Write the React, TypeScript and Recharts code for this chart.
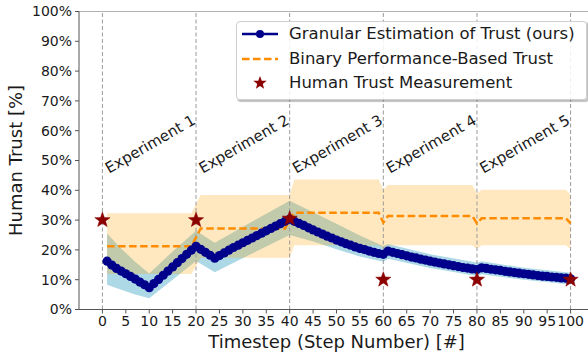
import React from 'react';
import {
  ComposedChart, Line, Area, Scatter, XAxis, YAxis, ReferenceLine,
} from 'recharts';

// ---- data ----
const granularTrust: number[] = [
  16.2, 14.9, 13.8, 12.9, 12.0, 11.1, 10.2, 9.2, 8.3, 7.3,
  8.7, 10.1, 11.5, 12.9, 14.3, 15.7, 17.1, 18.5, 19.9, 21.2,
  20.2, 19.2, 18.2, 17.2,
  18.1, 19.0, 19.9, 20.8, 21.6, 22.4, 23.2, 24.0, 24.8, 25.6, 26.4, 27.2, 28.0, 28.8, 29.6, 30.3,
  29.6, 28.9, 28.2, 27.4, 26.7, 26.0, 25.3, 24.6, 24.0, 23.3, 22.7, 22.1, 21.6, 21.0, 20.5, 20.1, 19.6, 19.2, 18.8, 18.5,
  19.6, 19.2, 18.8, 18.4, 18.0, 17.6, 17.3, 16.9, 16.6, 16.2, 15.9, 15.6, 15.3, 15.0, 14.7, 14.4, 14.1, 13.9, 13.6, 13.4,
  14.0, 13.8, 13.5, 13.3, 13.1, 12.8, 12.6, 12.4, 12.2, 12.0, 11.8, 11.6, 11.4, 11.2, 11.1, 10.9, 10.8, 10.6, 10.5, 10.3,
];

// granular band: [step, lower, upper]
const granularBandSteps = [1, 4, 7, 10, 15, 20, 24, 32, 40, 45, 50, 55, 60, 61, 70, 80, 81, 90, 100];
const granularBandLow = [8.3, 6.6, 5.0, 3.8, 10.0, 16.3, 12.5, 18.8, 25.0, 22.8, 20.2, 17.8, 16.0, 17.0, 13.9, 11.2, 11.8, 10.0, 8.4];
const granularBandHigh = [25.5, 20.5, 16.0, 12.1, 19.5, 26.4, 22.4, 29.5, 36.5, 32.6, 28.8, 24.8, 21.3, 22.0, 18.5, 15.8, 16.2, 14.0, 12.3];

// binary performance-based trust
const binarySteps = [1, 19, 20, 21, 39, 40, 41, 59, 60, 61, 79, 80, 81, 99, 100];
const binaryTrust = [21.2, 21.2, 24.2, 27.2, 27.2, 30.0, 32.5, 32.5, 29.2, 31.4, 31.4, 28.9, 30.6, 30.6, 28.9];
const binaryBandSteps = [1, 19, 20, 21, 40, 41, 59, 60, 61, 79, 80, 81, 99, 100];
const binaryBandLow = [11.9, 11.9, 14.5, 17.4, 17.4, 21.6, 21.6, 20.5, 21.6, 21.6, 20.3, 21.6, 21.6, 20.3];
const binaryBandHigh = [32.3, 32.3, 35.5, 38.4, 38.4, 43.6, 43.6, 40.2, 41.8, 41.8, 39.0, 40.2, 40.2, 38.5];

// human trust measurements
const measureSteps = [0, 20, 40, 60, 80, 100];
const measureTrust = [30, 30, 30.5, 10, 10, 10];

const experimentBoundaries = [0, 20, 40, 60, 80, 100];
const experimentLabels = ['Experiment 1', 'Experiment 2', 'Experiment 3', 'Experiment 4', 'Experiment 5'];

const xTicks = [0, 5, 10, 15, 20, 25, 30, 35, 40, 45, 50, 55, 60, 65, 70, 75, 80, 85, 90, 95, 100];
const yTicks = [0, 10, 20, 30, 40, 50, 60, 70, 80, 90, 100];

// ---- derived tables ----
const granularData = granularTrust.map((v, i) => ({ t: i + 1, v }));
const granularBand = granularBandSteps.map((t, i) => ({ t, r: [granularBandLow[i], granularBandHigh[i]] }));
const binaryData = binarySteps.map((t, i) => ({ t, v: binaryTrust[i] }));
const binaryBand = binaryBandSteps.map((t, i) => ({ t, r: [binaryBandLow[i], binaryBandHigh[i]] }));
const measureData = measureSteps.map((t, i) => ({ t, v: measureTrust[i] }));

const FONT = 'DejaVu Sans, sans-serif';
const TXT = '#1a1a1a';

function starPoints(cx: number, cy: number, R: number, r: number) {
  const pts: string[] = [];
  for (let k = 0; k < 10; k++) {
    const rad = k % 2 === 0 ? R : r;
    const a = -Math.PI / 2 + (k * Math.PI) / 5;
    pts.push(`${cx + rad * Math.cos(a)},${cy + rad * Math.sin(a)}`);
  }
  return pts.join(' ');
}

const StarShape = (props: any) => {
  const { cx, cy } = props;
  if (cx == null || cy == null) return null;
  return <polygon points={starPoints(cx, cy, 8, 3.3)} fill="#8b0000" stroke="#8b0000" strokeWidth={0.5} />;
};

const ExpLabel = (props: any) => {
  const { viewBox, text } = props;
  if (!viewBox) return null;
  const x = viewBox.x + 0.5;
  const y = viewBox.y + viewBox.height * (1 - 0.625);
  return (
    <text x={x} y={y} transform={`rotate(-30 ${x} ${y})`} textAnchor="end"
      fontFamily={FONT} fontSize={15} fill={TXT}>{text}</text>
  );
};

const YTitle = (props: any) => {
  const vb = props.viewBox;
  if (!vb) return null;
  const x = vb.x + 22;
  const y = vb.y + vb.height / 2;
  return (
    <text x={x} y={y} transform={`rotate(-90 ${x} ${y})`} textAnchor="middle"
      fontFamily={FONT} fontSize={18} fill={TXT}>Human Trust [%]</text>
  );
};

const XTitle = (props: any) => {
  const vb = props.viewBox;
  if (!vb) return null;
  return (
    <text x={vb.x + vb.width / 2} y={vb.y + 38} textAnchor="middle"
      fontFamily={FONT} fontSize={18} fill={TXT}>Timestep (Step Number) [#]</text>
  );
};

const LegendBox = () => (
  <div style={{
    position: 'absolute', left: 236, top: 21, width: 349, height: 77,
    border: '1px solid #cfcfcf', borderRadius: 4, background: 'rgba(255,255,255,0.85)',
    boxShadow: '1.5px 1.5px 1px rgba(0,0,0,0.25)', fontFamily: FONT, fontSize: 16.5, color: TXT,
  }}>
    <svg width={60} height={77} style={{ position: 'absolute', left: 0, top: 0 }}>
      <line x1={5} y1={12} x2={41} y2={12} stroke="#00008b" strokeWidth={2.5} />
      <circle cx={23} cy={12} r={4} fill="#00008b" />
      <line x1={5} y1={37} x2={41} y2={37} stroke="#ff8c00" strokeWidth={2.5} strokeDasharray="7.5 3.5" />
      <polygon points={starPoints(23, 61, 7, 2.9)} fill="#8b0000" />
    </svg>
    <div style={{ position: 'absolute', left: 52, top: 2, lineHeight: '20px', whiteSpace: 'nowrap' }}>Granular Estimation of Trust (ours)</div>
    <div style={{ position: 'absolute', left: 52, top: 27, lineHeight: '20px', whiteSpace: 'nowrap' }}>Binary Performance-Based Trust</div>
    <div style={{ position: 'absolute', left: 52, top: 51, lineHeight: '20px', whiteSpace: 'nowrap' }}>Human Trust Measurement</div>
  </div>
);

export default function App() {
  return (
    <div style={{ position: 'absolute', left: 0, top: 0, width: 588, height: 353, overflow: 'hidden', background: '#fff' }}>
      <ComposedChart width={594} height={353} margin={{ top: 11.5, right: 0, bottom: 0, left: 0 }}>
        <XAxis type="number" dataKey="t" domain={[-5, 105]} ticks={xTicks} allowDataOverflow
          height={43.5} tickSize={4} tickMargin={3} interval={0}
          tick={{ fontSize: 14, fill: TXT, fontFamily: FONT }}
          axisLine={{ stroke: '#555' }} tickLine={{ stroke: '#555' }}
          label={<XTitle />} />
        <YAxis type="number" domain={[0, 100]} ticks={yTicks} width={79} tickSize={4} tickMargin={3}
          interval={0}
          tickFormatter={(v: number) => `${v}%`}
          tick={{ fontSize: 14, fill: TXT, fontFamily: FONT }}
          axisLine={{ stroke: '#555' }} tickLine={{ stroke: '#555' }}
          label={<YTitle />} />
        <Area data={granularBand} dataKey="r" type="linear" fill="#add8e6" fillOpacity={1}
          stroke="none" isAnimationActive={false} />
        <Area data={binaryBand} dataKey="r" type="linear" fill="#ffa500" fillOpacity={0.25}
          stroke="none" isAnimationActive={false} />
        <ReferenceLine y={100} stroke="#b0b0b0" strokeWidth={1} />
        {experimentBoundaries.map((b, i) => (
          <ReferenceLine key={b} x={b} stroke="#9a9a9a" strokeWidth={1} strokeDasharray="4 2.5"
            label={i > 0 ? <ExpLabel text={experimentLabels[i - 1]} /> : undefined} />
        ))}
        <Line data={granularData} dataKey="v" type="linear" stroke="#00008b" strokeWidth={3}
          dot={{ r: 4.6, fill: '#00008b', stroke: '#00008b', strokeWidth: 0 }} activeDot={false}
          isAnimationActive={false} />
        <Line data={binaryData} dataKey="v" type="linear" stroke="#ff8c00" strokeWidth={2.5}
          strokeDasharray="7.5 3.5" dot={false} activeDot={false} isAnimationActive={false} />
        <Scatter data={measureData} dataKey="v" shape={<StarShape />} isAnimationActive={false} />
      </ComposedChart>
      <LegendBox />
    </div>
  );
}
